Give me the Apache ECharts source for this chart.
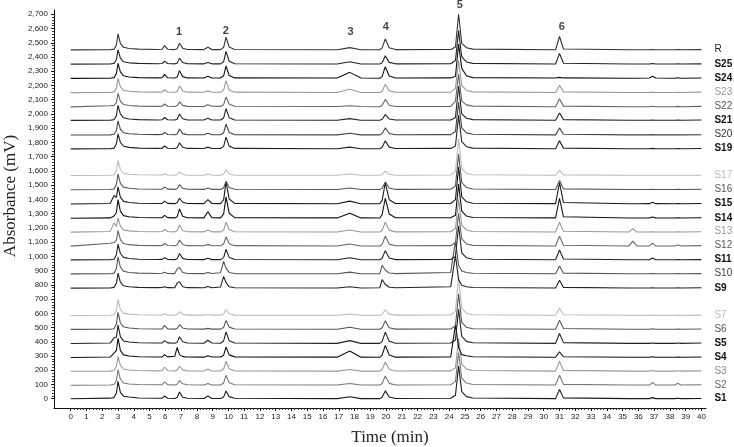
<!DOCTYPE html>
<html><head><meta charset="utf-8">
<script src="https://cdn.jsdelivr.net/npm/echarts@6/dist/echarts.min.js"></script>
<style>html,body{margin:0;padding:0;background:#fff}#c{width:734px;height:447px}</style>
</head><body><div id="c"></div>
<script>
// Retention-time grid (min) shared by all traces
const times = [0,2.5,2.75,2.9,3.0, 3.15,3.35,3.7,4.3,5.5, 5.8,5.95,6.15,6.6,6.75, 6.9,7.1,7.4,8.45,8.7,
  8.95,9.5,9.7,9.85,10.05, 10.4,16.9,17.7,18.4,19.6, 19.75,19.95,20.2,20.6,24.1, 24.4,24.6,24.8,25.1,25.5,
  30.75,31.0,31.25,35.4,35.65, 35.9,36.7,36.9,37.1,38.3, 38.5,38.7,40];

const traceNames = ['S1','S2','S3','S4','S5','S6','S7','S9','S10','S11','S12','S13','S14','S15','S16','S17','S19','S20','S21','S22','S23','S24','S25','R'];
const baselines  = [0,95,193,290,388,487,585,777,877,975,1072,1170,1268,1368,1468,1568,1755,1852,1955,2050,2150,2250,2350,2450];

// Signal above each trace's baseline (mV), one value per retention time
const hS1  = [0,4,8,40,122, 45,18,12,5,3, 4,19,4,2,9, 47,11,3,2,19, 2,2,13,54,15, 3,1,14,1,1, 11,55,12,2,3, 25,230,50,15,5, 1,65,6,1,1, 1,1,8,1,1, 3,1,2];
const hS2  = [0,1,5,35,110, 42,16,9,5,3, 4,23,4,2,7, 33,10,3,2,12, 2,2,16,70,18, 3,1,12,1,1, 12,65,13,2,3, 25,230,50,15,5, 1,70,6,1,1, 1,1,20,1,1, 14,1,3];
const hS3  = [0,1,5,35,105, 42,16,9,5,3, 4,30,4,2,8, 35,10,3,2,16, 2,2,16,70,18, 3,1,12,1,1, 12,65,13,2,3, 25,230,50,15,5, 1,70,6,1,1, 1,1,5,1,1, 4,1,3];
const hS4  = [0,3,30,50,135, 50,18,10,5,3, 4,20,4,8,70, 20,6,3,2,12, 3,3,16,73,18, 4,2,45,2,1, 16,85,17,2,3, 230,70,20,12,5, 1,40,5,1,1, 1,1,5,1,1, 3,1,3];
const hS5  = [0,3,40,45,130, 48,18,10,5,3, 4,20,4,2,8, 47,12,3,2,23, 3,2,18,82,20, 3,1,20,1,1, 15,80,16,2,3, 25,240,50,15,5, 1,70,6,1,1, 1,1,4,1,1, 3,1,3];
const hS6  = [0,1,5,40,120, 45,18,10,5,3, 4,28,4,2,6, 33,10,3,2,7, 2,2,14,63,16, 3,1,15,1,1, 11,60,12,2,3, 25,250,50,15,5, 1,65,6,1,1, 1,1,4,1,1, 3,1,3];
const hS7  = [0,1,5,35,113, 42,16,9,5,3, 3,12,3,2,6, 26,8,2,2,7, 2,2,10,42,12, 2,1,10,1,1, 8,40,9,2,3, 30,270,50,15,5, 1,50,5,1,1, 1,1,2,1,1, 2,1,2];
const hS9  = [0,1,5,35,105, 42,16,9,5,3, 4,10,3,2,35, 45,10,3,2,12, 2,8,82,38,10, 2,1,10,1,2, 60,25,6,2,10, 230,60,20,10,4, 1,55,5,1,1, 1,1,3,1,1, 2,1,2];
const hS10 = [0,1,5,40,120, 48,18,10,5,3, 4,12,3,2,35, 45,10,3,2,10, 2,8,87,40,10, 2,1,12,1,2, 60,25,6,2,10, 230,60,20,10,4, 1,55,5,1,1, 1,1,3,1,1, 2,1,2];
const hS11 = [0,1,5,38,110, 45,18,10,5,3, 4,15,4,2,8, 45,11,3,2,12, 2,2,16,75,18, 3,1,15,1,1, 12,65,13,2,3, 25,240,50,15,5, 1,70,6,1,1, 1,1,14,1,1, 3,1,2];
const hS12 = [0,20,25,40,110, 45,18,10,5,3, 4,18,4,2,8, 42,11,3,2,12, 2,2,15,65,17, 3,1,15,1,1, 12,70,14,2,3, 25,230,50,15,5, 1,70,6,1,35, 1,1,21,1,1, 8,1,3];
const hS13 = [0,5,65,40,100, 42,16,9,5,3, 4,20,4,2,9, 50,12,3,2,15, 2,2,15,70,18, 3,1,15,1,1, 12,70,14,2,3, 25,230,50,15,5, 1,70,6,1,25, 1,1,3,1,1, 3,1,3];
const hS14 = [0,2,15,40,130, 50,18,10,5,3, 4,20,4,2,10, 65,14,3,2,45, 4,2,30,150,35, 4,2,35,2,1, 25,140,30,3,3, 20,240,50,15,5, 2,140,10,1,1, 1,2,8,2,1, 3,1,3];
const hS15 = [0,3,60,45,120, 48,18,10,5,3, 4,20,4,2,8, 40,12,3,2,30, 3,2,30,155,35, 4,1,20,1,1, 25,150,30,3,3, 30,260,50,15,5, 2,150,10,1,1, 1,2,12,2,1, 3,1,3];
const hS16 = [0,1,5,38,110, 45,18,10,5,3, 4,20,4,2,7, 35,10,3,2,12, 2,2,14,60,16, 3,1,12,1,1, 11,55,12,2,3, 25,250,50,15,5, 1,65,6,1,1, 1,1,3,1,1, 3,1,3];
const hS17 = [0,1,5,35,105, 42,16,9,5,3, 3,12,3,2,5, 25,8,2,2,8, 2,2,10,40,12, 2,1,10,1,1, 7,30,8,2,3, 30,260,50,15,5, 1,35,4,1,1, 1,1,2,1,1, 2,1,2];
const hS19 = [0,1,5,35,105, 45,18,10,5,3, 4,20,4,2,8, 42,11,3,2,12, 2,2,17,82,19, 3,1,12,1,1, 11,56,12,2,3, 20,235,50,15,5, 1,56,5,1,1, 1,1,3,1,1, 2,1,2];
const hS20 = [0,1,5,32,100, 42,16,9,5,3, 4,18,4,2,7, 42,10,3,2,12, 2,2,16,77,18, 3,1,12,1,1, 10,50,11,2,3, 25,230,50,15,5, 1,50,5,1,1, 1,1,3,1,1, 2,1,2];
const hS21 = [0,1,5,35,105, 45,18,10,5,3, 4,20,4,2,8, 45,11,3,2,14, 2,2,17,82,19, 3,1,12,1,1, 8,40,10,2,3, 20,240,45,15,5, 1,52,5,1,1, 1,1,3,1,1, 2,1,2];
const hS22 = [0,8,10,30,95, 40,16,9,5,3, 4,20,4,2,7, 35,10,3,2,15, 4,3,15,70,18, 4,2,8,2,1, 10,52,11,2,3, 40,230,40,14,5, 1,56,5,1,1, 1,1,4,1,1, 3,1,3];
const hS23 = [0,1,5,32,100, 42,16,9,5,3, 4,20,4,2,8, 47,11,3,2,12, 2,2,17,84,19, 3,1,23,1,1, 10,59,12,2,3, 30,225,50,15,5, 1,52,5,1,1, 1,1,3,1,1, 2,1,3];
const hS24 = [0,1,5,35,105, 45,18,10,5,3, 4,28,4,2,9, 54,12,3,2,15, 2,2,18,87,20, 3,2,42,2,1, 14,82,16,2,3, 15,240,70,18,5, 2,7,3,1,1, 1,2,14,2,1, 4,1,2];
const hS25 = [0,1,5,32,100, 42,16,9,5,3, 4,21,4,2,7, 42,11,3,2,12, 2,2,18,89,20, 3,1,16,1,1, 10,59,12,2,3, 25,235,50,15,5, 1,75,6,1,1, 1,1,4,1,1, 3,1,2];
const hR   = [0,1,5,35,113, 45,18,10,5,3, 4,30,4,2,8, 47,12,3,2,19, 2,2,18,89,20, 3,1,16,1,1, 14,77,15,2,3, 20,250,45,15,5, 1,94,6,1,1, 1,1,3,1,1, 3,1,2];
const heights = [hS1,hS2,hS3,hS4,hS5,hS6,hS7,hS9,hS10,hS11,hS12,hS13,hS14,hS15,hS16,hS17,hS19,hS20,hS21,hS22,hS23,hS24,hS25,hR];

// Peak numbers and where they are written
const peakLabels = ['1','2','3','4','5','6'];
const peakLabelTimes = [6.87, 9.83, 17.75, 19.99, 24.68, 31.14];
const peakLabelValues = [2577, 2586, 2577, 2612, 2764, 2612];

// Axis tick labels
const xTickLabels = [0,1,2,3,4,5,6,7,8,9,10,11,12,13,14,15,16,17,18,19,20,21,22,23,24,25,26,27,28,29,30,31,32,33,34,35,36,37,38,39,40];
const yTickLabels = [0,100,200,300,400,500,600,700,800,900,1000,1100,1200,1300,1400,1500,1600,1700,1800,1900,2000,2100,2200,2300,2400,2500,2600,2700];

// ---- styles (not data) ----
const lineColors = {S1:'#1a1a1a',S2:'#777',S3:'#999',S4:'#111',S5:'#222',S6:'#555',S7:'#bbb',S9:'#222',S10:'#555',S11:'#222',S12:'#666',S13:'#999',S14:'#111',S15:'#1a1a1a',S16:'#555',S17:'#bbb',S19:'#222',S20:'#444',S21:'#222',S22:'#666',S23:'#999',S24:'#111',S25:'#222',R:'#333'};
const labelColors = {S1:'#111',S2:'#666',S3:'#888',S4:'#111',S5:'#111',S6:'#555',S7:'#bbb',S9:'#111',S10:'#444',S11:'#111',S12:'#555',S13:'#999',S14:'#111',S15:'#111',S16:'#555',S17:'#bbb',S19:'#111',S20:'#333',S21:'#111',S22:'#555',S23:'#999',S24:'#111',S25:'#111',R:'#222'};
const boldLabels = {S1:1,S4:1,S5:1,S9:1,S11:1,S14:1,S15:1,S19:1,S21:1,S24:1,S25:1};

const SANS = '"Liberation Sans", Arial, sans-serif';
const SERIF = '"Liberation Serif", "Times New Roman", serif';
const X_MIN = -1.06, X_MAX = 40.29, Y_MIN = -65, Y_MAX = 2730;

const xMinor = [];
xTickLabels.forEach(v => { if (v < 40) for (let k = 1; k < 5; k++) xMinor.push(+(v + k * 0.2).toFixed(2)); });
const yMinor = [];
for (let i = 0; i < yTickLabels.length - 1; i++) for (let k = 1; k < 5; k++) yMinor.push(yTickLabels[i] + k * 20);

const series = traceNames.map((name, i) => ({
  name, type: 'line', showSymbol: false, symbol: 'none', silent: true,
  data: times.map((t, j) => [t, baselines[i] + heights[i][j]]),
  lineStyle: { color: lineColors[name], width: 1.1 },
  itemStyle: { color: lineColors[name] },
  z: 2,
  endLabel: {
    show: true, formatter: name, distance: 13,
    color: labelColors[name], fontSize: 10, fontFamily: SANS,
    fontWeight: boldLabels[name] ? 'bold' : 'normal'
  }
}));

series.push({
  type: 'scatter', symbolSize: 0, clip: false, silent: true, z: 5,
  data: peakLabels.map((s, i) => ({ value: [peakLabelTimes[i], peakLabelValues[i]], name: s })),
  label: { show: true, position: 'inside', formatter: p => p.name, fontSize: 11, fontWeight: 'bold', color: '#111', fontFamily: SANS }
});

const chart = echarts.init(document.getElementById('c'), null, { renderer: 'canvas' });
chart.setOption({
  animation: false,
  backgroundColor: '#fff',
  grid: { left: 54, right: 28, top: 10, bottom: 39, containLabel: false },
  xAxis: [{
    type: 'value', min: X_MIN, max: X_MAX,
    axisLine: { show: true, onZero: false, lineStyle: { color: '#111', width: 1 } },
    axisTick: { show: true, customValues: xTickLabels, length: 3, lineStyle: { color: '#111' } },
    axisLabel: { show: true, customValues: xTickLabels, fontSize: 8, color: '#222', fontFamily: SANS, margin: 5 },
    splitLine: { show: false }
  }, {
    type: 'value', min: X_MIN, max: X_MAX, position: 'bottom',
    axisLine: { show: false, onZero: false },
    axisTick: { show: true, customValues: xMinor, length: 2, lineStyle: { color: '#333' } },
    axisLabel: { show: false }, splitLine: { show: false }
  }],
  yAxis: [{
    type: 'value', min: Y_MIN, max: Y_MAX,
    axisLine: { show: true, onZero: false, lineStyle: { color: '#111', width: 1 } },
    axisTick: { show: true, customValues: yTickLabels, length: 3, lineStyle: { color: '#111' } },
    axisLabel: { show: true, customValues: yTickLabels, fontSize: 8, color: '#222', fontFamily: SANS, margin: 6,
      formatter: v => Number(v).toLocaleString('en-US') },
    splitLine: { show: false }
  }, {
    type: 'value', min: Y_MIN, max: Y_MAX, position: 'left',
    axisLine: { show: false, onZero: false },
    axisTick: { show: true, customValues: yMinor, length: 2, lineStyle: { color: '#333' } },
    axisLabel: { show: false }, splitLine: { show: false }
  }],
  graphic: [
    { type: 'text', x: 11, y: 196, rotation: Math.PI / 2,
      style: { text: 'Absorbance (mV)', fontSize: 17, fontFamily: SERIF, fill: '#222', align: 'center', verticalAlign: 'middle' } },
    { type: 'text', x: 390, y: 438,
      style: { text: 'Time (min)', fontSize: 17, fontFamily: SERIF, fill: '#222', align: 'center', verticalAlign: 'middle' } }
  ],
  series
});
</script></body></html>
